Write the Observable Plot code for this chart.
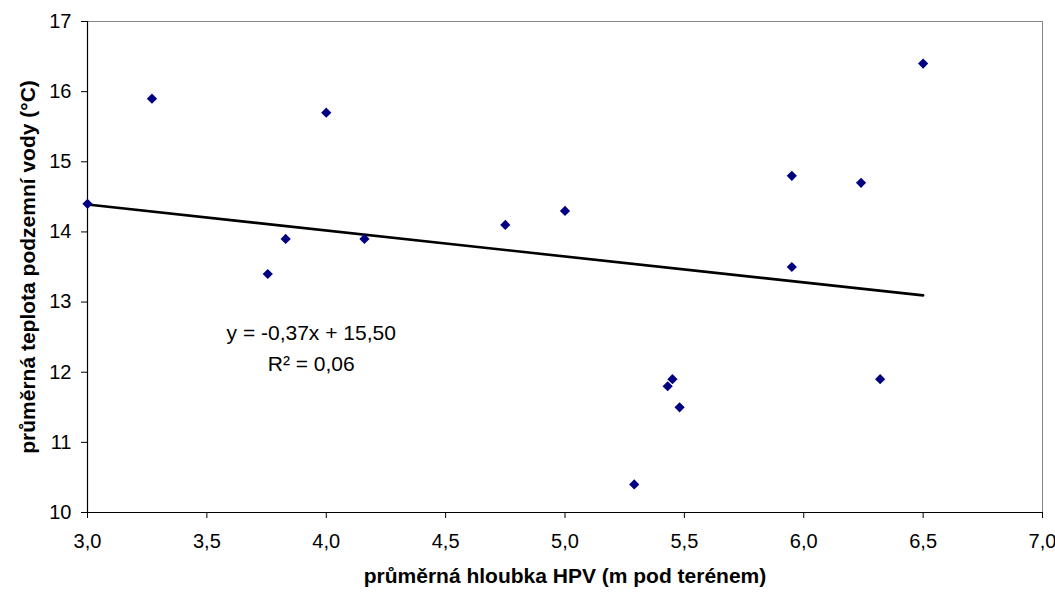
<!DOCTYPE html>
<html>
<head>
<meta charset="utf-8">
<script src="https://cdn.jsdelivr.net/npm/d3@7"></script>
<script src="https://cdn.jsdelivr.net/npm/@observablehq/plot@0.6"></script>
<style>
  html, body { margin: 0; padding: 0; background: #fff; }
  #chart svg { display: block; }
</style>
</head>
<body>
<div id="chart"></div>
<script>
// Data
const depth = [3.0, 3.27, 3.755, 3.83, 4.0, 4.16, 4.75, 5.0, 5.29, 5.43, 5.45, 5.48, 5.95, 5.95, 6.24, 6.32, 6.5];
const temperature = [14.4, 15.9, 13.4, 13.9, 15.7, 13.9, 14.1, 14.3, 10.4, 11.8, 11.9, 11.5, 14.8, 13.5, 14.7, 11.9, 16.4];

// Trend line endpoints (y = -0,37x + 15,50) as drawn
const trendX = [3.0, 6.5];
const trendY = [14.39, 13.095];

const xTicks = [3.0, 3.5, 4.0, 4.5, 5.0, 5.5, 6.0, 6.5, 7.0];
const yTicks = [10, 11, 12, 13, 14, 15, 16, 17];

const annotText = ["y = -0,37x + 15,50", "R\u00B2 = 0,06"];
const annotX = [3.937, 3.937];
const annotY = [12.55, 12.12];

const xTitle = "průměrná hloubka HPV (m pod terénem)";
const yTitle = "průměrná teplota podzemní vody (°C)";

const points = depth.map((d, i) => ({x: d, y: temperature[i]}));
const trend = trendX.map((d, i) => ({x: d, y: trendY[i]}));
const annots = annotText.map((t, i) => ({t, x: annotX[i], y: annotY[i]}));

const fmt = d => d.toFixed(1).replace(".", ",");

const chart = Plot.plot({
  width: 1055,
  height: 593,
  marginLeft: 87,
  marginRight: 13,
  marginTop: 21,
  marginBottom: 81,
  style: {fontFamily: "'Liberation Sans', Arial, sans-serif", fontSize: "20px", color: "#000", background: "#fff"},
  x: {domain: [3, 7]},
  y: {domain: [10, 17]},
  marks: [
    Plot.ruleY([17], {stroke: "#888", strokeWidth: 1}),
    Plot.ruleX([7], {stroke: "#888", strokeWidth: 1}),
    Plot.axisX({ticks: xTicks, tickFormat: fmt, tickSize: 6, tickPadding: 15, label: null, stroke: "#000", fontSize: 20}),
    Plot.axisY({ticks: yTicks, tickFormat: d => String(d), tickSize: 6, tickPadding: 10, label: null, stroke: "#000", fontSize: 20}),
    Plot.ruleX([3], {stroke: "#000", strokeWidth: 1.2}),
    Plot.ruleY([10], {stroke: "#000", strokeWidth: 1.2}),
    Plot.line(trend, {x: "x", y: "y", stroke: "#000", strokeWidth: 2.6}),
    Plot.dot(points, {x: "x", y: "y", symbol: "diamond2", r: 4.6, fill: "#000080", stroke: "none"}),
    Plot.text(annots, {x: "x", y: "y", text: "t", fontSize: 21, fill: "#000"}),
    Plot.text([xTitle], {frameAnchor: "bottom", textAnchor: "middle", dy: 70, fontWeight: "bold", fontSize: 21, fill: "#000"}),
    Plot.text([yTitle], {frameAnchor: "left", textAnchor: "middle", rotate: -90, dx: -59, fontWeight: "bold", fontSize: 21, fill: "#000"})
  ]
});
document.getElementById("chart").appendChild(chart);
</script>
</body>
</html>
